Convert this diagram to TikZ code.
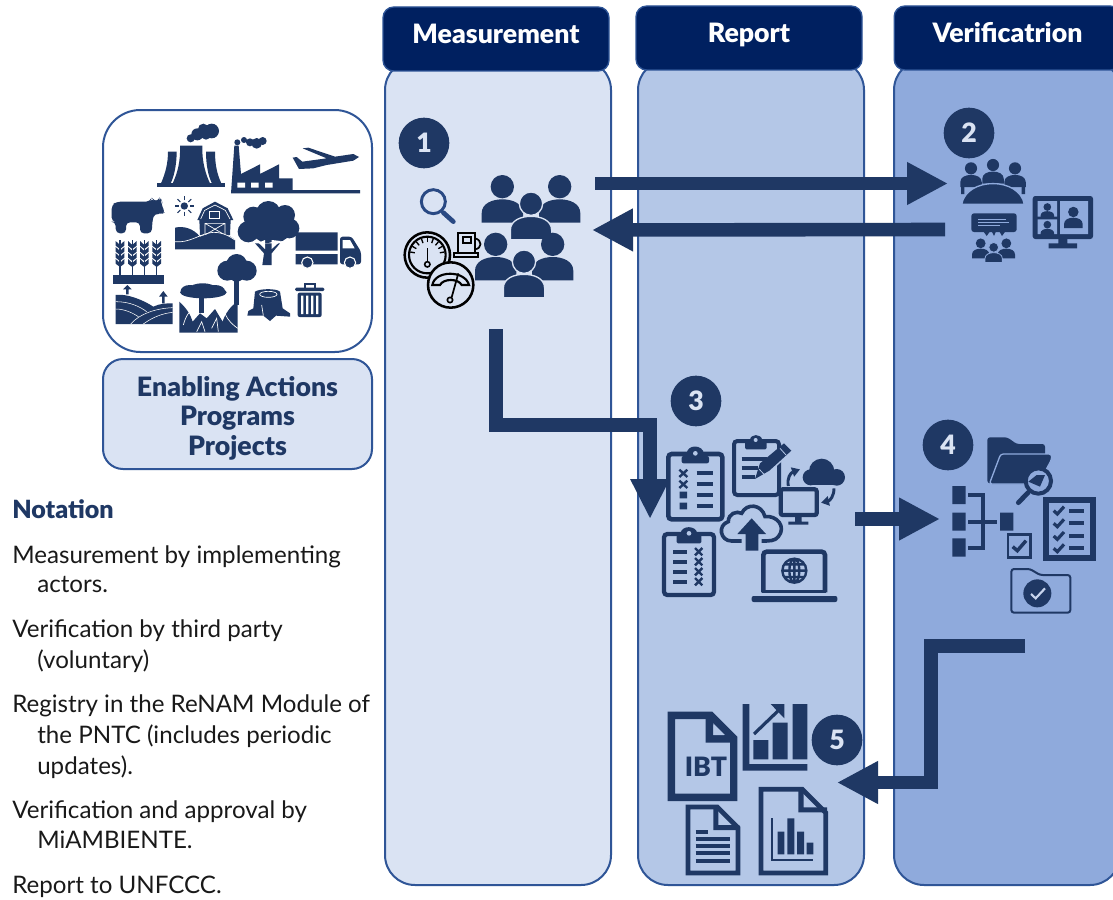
\documentclass[tikz,border=0pt]{standalone}
\usepackage{fontspec}
\setmainfont{Lato}[BoldFont={Lato Black}]
\usetikzlibrary{arrows.meta}
\definecolor{ink}{HTML}{1F3864}
\definecolor{hdr}{HTML}{002060}
\definecolor{edge}{HTML}{2F5597}
\definecolor{cA}{HTML}{DAE3F3}
\definecolor{cB}{HTML}{B4C7E7}
\definecolor{cC}{HTML}{8FAADC}
\tikzset{
 zm/.style 2 args={shift={(#1,#2)},x=.25pt,y=-.25pt},
 column/.style={draw=edge,line width=1.5pt,rounded corners=22.5pt,minimum width=169.5pt,minimum height=618.75pt,inner sep=0pt},
 header/.style={draw=edge,line width=1pt,fill=hdr,rounded corners=8pt,minimum width=169.5pt,minimum height=48pt,inner sep=0pt,text=white,font=\bfseries\fontsize{20}{24}\selectfont,text height=14pt,text depth=7pt},
 badge/.style={circle,fill=ink,minimum size=38pt,inner sep=0pt,text=cA,font=\bfseries\fontsize{20}{22}\selectfont},
 bigarrow/.style={draw=ink,line width=10.2pt,-{Triangle[length=30.75pt,width=30pt]}},
 note/.style={anchor=base west,inner sep=0pt,text=black!90,font=\fontsize{18.1}{22}\selectfont},
 person/.pic={\path[pic actions] (0,0) circle[radius=35]; \path[pic actions] (-62,108) -- (-62,80) .. controls (-62,50) and (-30,38) .. (0,38) .. controls (30,38) and (62,50) .. (62,80) -- (62,108) -- cycle;},
}
\begin{document}
\begin{tikzpicture}[x=.75pt,y=-.75pt]
\clip (0,0) rectangle (1113,899);
\fill[white] (0,0) rectangle (1113,899);
% columns
\node[column,fill=cA] (col1) at (498,472.5) {};
\node[column,fill=cB] (col2) at (751,472.5) {};
\node[column,fill=cC] (col3) at (1007,472.5) {};
\node[header] (h1) at (496,39) {Measurement};
\node[header] (h2) at (749,38) {Report};
\node[header,minimum width=170pt] (h3) at (1007.5,38) {Verificatrion};
% enabling
\node[draw=edge,line width=1.5pt,fill=white,rounded corners=28pt,minimum width=201.75pt,minimum height=181.5pt,inner sep=0pt] (frame) at (237.5,231) {};
\node[draw=edge,line width=1.5pt,fill=cA,rounded corners=15pt,minimum width=201.75pt,minimum height=82.5pt,inner sep=0pt,text=ink,align=center,font=\bfseries\fontsize{20}{22.2}\selectfont] (enable) at (237.5,414) {\rule{0pt}{21pt}Enabling Actions\\Programs\\Projects};
% icons in frame
\begin{scope}[zm={100}{105}]
 % cooling towers
 \fill[ink] (172,235) rectangle (375,245);
 \fill[ink] (240,122) -- (307,122) .. controls (305,170) and (318,210) .. (330,235) -- (218,235) .. controls (232,205) and (242,170) .. cycle;
 \fill[ink] (204,140) -- (230,140) .. controls (230,180) and (222,215) .. (212,235) -- (183,235) .. controls (196,205) and (204,175) .. cycle;
 \fill[ink] (318,140) -- (345,140) .. controls (345,175) and (350,205) .. (364,235) -- (336,235) .. controls (325,215) and (318,180) .. cycle;
 \fill[ink] (272,100) circle[radius=12] (292,88) circle[radius=18] (310,72) circle[radius=16] (335,78) circle[radius=22] (318,90) circle[radius=14];
 % factory
 \fill[ink] (393,265) -- (403,122) -- (416,122) -- (423,207) -- (480,178) -- (480,207) -- (537,178) -- (537,220) -- (578,220) -- (578,255) -- (780,255) -- (780,265) -- cycle;
 \fill[white] (412,233) rectangle (435,248) (453,233) rectangle (476,248) (495,233) rectangle (518,248);
 \fill[ink] (412,112) circle[radius=9] (432,105) circle[radius=9] (450,112) circle[radius=12] (470,115) circle[radius=16] (488,108) circle[radius=12];
 % plane
 \fill[ink] (578,158) -- (590,156) -- (607,170) -- (680,160) -- (608,130) -- (625,128) -- (705,155) -- (760,147) -- (777,156) -- (760,167) -- (680,180) -- (640,190) -- (597,192) -- cycle;
 % cow
 \fill[ink,rounded corners=3pt] (35,300) -- (50,290) -- (150,290) -- (155,278) -- (162,288) -- (175,288) -- (180,276) -- (187,290) -- (182,300) -- (197,320) -- (185,328) -- (165,325) -- (158,340) -- (155,385) -- (120,385) -- (120,352) -- (78,352) -- (78,385) -- (48,385) -- (46,350) -- (35,350) -- cycle;
 % sun
 \fill[ink] (253,303) circle[radius=11];
 \foreach \a in {0,45,...,315}{\draw[ink,line width=.8pt] (253,303) ++(\a:17) -- ++(\a:12);}
 % barn
 \fill[ink] (292,345) -- (308,310) -- (345,290) -- (383,310) -- (400,345) -- (392,345) -- (390,390) -- (300,390) -- (298,345) -- cycle;
 \draw[white,line width=.5pt] (302,342) -- (314,316) -- (345,300) -- (376,316) -- (390,342);
 \draw[white,line width=.5pt] (327,318) rectangle (358,340);
 \draw[white,line width=.5pt] (315,355) rectangle (375,390) (315,355) -- (375,390) (375,355) -- (315,390);
 \fill[ink] (225,368) .. controls (250,362) and (280,370) .. (300,395) -- (330,385) .. controls (370,380) and (395,395) .. (405,405) -- (405,433) -- (225,433) -- cycle;
 \draw[white,line width=.5pt] (225,410) .. controls (270,415) and (300,385) .. (340,382) .. controls (370,382) and (390,395) .. (405,405);
 % big tree
 \fill[ink] (460,335) circle[radius=30] (505,325) circle[radius=37] (555,330) circle[radius=30] (568,370) circle[radius=30] (445,380) circle[radius=32] (500,372) circle[radius=42] (535,375) circle[radius=35];
 \fill[ink] (487,480) -- (492,445) -- (465,415) -- (495,415) -- (540,415) -- (515,445) -- (515,480) -- cycle;
 \fill[white] (475,413) -- (495,432) -- (495,405) -- cycle (515,405) -- (515,432) -- (542,408) -- cycle;
 % truck
 \fill[ink] (587,382) rectangle (713,437) (587,447) rectangle (713,478);
 \fill[ink,rounded corners=2pt] (720,395) -- (755,395) -- (783,440) -- (783,478) -- (720,478) -- cycle;
 \fill[white] (728,405) -- (750,405) -- (764,430) -- (728,430) -- cycle;
 \filldraw[ink,draw=white,line width=.8pt] (622,473) circle[radius=17] (750,473) circle[radius=17];
 % wheat
 \foreach \sx in {60,97,133,170}{
  \begin{scope}[shift={(\sx,0)}]
  \draw[ink,line width=1pt] (0,405) -- (0,510);
  \foreach \ly in {432,450,468,486}{\fill[ink] (0,\ly) -- (-13,\ly-10) -- (-13,\ly-24) -- (0,\ly-12) -- (13,\ly-24) -- (13,\ly-10) -- cycle;}
  \end{scope}}
 \fill[ink] (40,510) rectangle (192,537);
 % fields
 \fill[ink] (47,570) .. controls (80,565) and (130,585) .. (160,605) .. controls (180,595) and (200,595) .. (218,595) -- (218,657) -- (47,657) -- cycle;
 \draw[white,line width=.4pt] (47,590) .. controls (90,590) and (120,605) .. (140,620) (47,612) .. controls (75,612) and (100,625) .. (115,635) (92,657) .. controls (120,625) and (170,610) .. (218,608) (130,657) .. controls (160,635) and (190,625) .. (218,622);
 \fill[ink] (82,540) -- (95,553) -- (86,553) -- (86,568) -- (78,568) -- (78,553) -- (69,553) -- cycle;
 \fill[ink] (190,558) -- (203,575) -- (194,575) -- (194,595) -- (186,595) -- (186,575) -- (177,575) -- cycle;
 % acacia and forest
 \fill[ink] (310,562) ellipse[x radius=70,y radius=18] (270,558) ellipse[x radius=28,y radius=18] (345,558) ellipse[x radius=30,y radius=18] (308,550) ellipse[x radius=40,y radius=15];
 \fill[ink] (297,575) rectangle (313,625);
 \fill[ink] (238,590) .. controls (260,610) and (272,630) .. (278,650) -- (300,625) -- (320,640) -- (345,612) -- (368,650) .. controls (375,625) and (395,600) .. (413,590) -- (413,683) -- (238,683) -- cycle;
 \draw[white,line width=.5pt] (250,660) .. controls (258,630) and (270,615) .. (285,610) (290,680) -- (305,650) -- (315,680) (335,670) -- (350,640) -- (355,680) (375,625) .. controls (385,650) and (400,660) .. (413,670);
 % tall tree
 \fill[ink] (410,478) circle[radius=31] (382,497) circle[radius=30] (440,497) circle[radius=30] (410,505) circle[radius=25];
 \fill[ink] (402,525) rectangle (416,600);
 % stump
 \fill[ink] (465,560) .. controls (480,550) and (530,550) .. (540,560) -- (548,610) -- (570,625) -- (570,635) -- (528,632) -- (510,648) -- (490,632) -- (442,632) -- (445,618) -- (460,610) -- cycle;
 \draw[white,line width=.5pt] (505,568) ellipse[x radius=26,y radius=9];
 \draw[white,line width=.5pt] (490,632) -- (485,600);
 % bin
 \fill[ink,rounded corners=1pt] (585,548) rectangle (673,558);
 \draw[ink,line width=1.2pt] (615,548) -- (615,537) -- (645,537) -- (645,548);
 \fill[ink,rounded corners=1.5pt] (593,563) rectangle (665,636);
 \fill[white] (603,572) rectangle (610,627) (618,572) rectangle (625,627) (633,572) rectangle (640,627) (648,572) rectangle (655,627);
\end{scope}
% badges
\node[badge] (b1) at (424,143) {1};
\node[badge] (b2) at (969,133) {2};
\node[badge] (b3) at (696,401) {3};
\node[badge] (b4) at (948,445) {4};
\node[badge] (b5) at (837,740) {5};
% group 1
\begin{scope}[zm={395}{110}]
 \draw[edge!60!ink,line width=2.2pt] (115,275) circle[radius=36];
 \draw[edge!60!ink,line width=3.5pt,line cap=round] (145,308) -- (175,335);
 \pic[fill=ink] at (322,230) {person};
 \pic[fill=ink] at (494,230) {person};
 \pic[fill=ink,draw=cA,line width=1pt] at (408,281) {person};
 \pic[fill=ink] at (302,403) {person};
 \pic[fill=ink] at (473,403) {person};
 \pic[fill=ink,draw=cA,line width=1pt] at (387,455) {person};
 % pump
 \draw[black,line width=1.5pt,fill=cA] (190,430) -- (190,368) -- (240,368) -- (240,430);
 \draw[black,line width=1.5pt] (205,380) rectangle (228,400);
 \draw[black,line width=1.3pt] (240,385) .. controls (262,390) and (262,415) .. (240,418);
 \draw[black,line width=1.7pt,fill=cA] (178,430) rectangle (250,442);
 % gauges
 \draw[black,line width=1.9pt,fill=cA] (97,435) circle[radius=68];
 \draw[black,line width=1.6pt] (97,435) circle[radius=55];
 \foreach \a in {10,30,...,170}{\draw[black,line width=1pt] (97,435) ++(-\a:38) -- ++(-\a:14);}
 \draw[black,line width=1.2pt] (97,415) -- (97,455);
 \draw[black,line width=1.2pt] (97,463) circle[radius=8];
 \draw[black,line width=1.9pt,fill=cA] (167,525) circle[radius=68];
 \draw[black,line width=1.6pt] (112,525) .. controls (120,480) and (210,480) .. (222,525) -- (200,525) .. controls (190,505) and (145,505) .. (135,525) -- cycle;
 \draw[black,line width=1.3pt] (190,490) -- (170,562);
 \draw[black,line width=1.2pt,fill=cA] (165,570) circle[radius=8];
\end{scope}
% group 2
\begin{scope}[zm={930}{110}]
 \pic[fill=ink,scale=.52] at (123,175) {person};
 \pic[fill=ink,scale=.52] at (189,165) {person};
 \pic[fill=ink,scale=.52] at (255,175) {person};
 \fill[ink] (93,210) rectangle (103,252) (275,210) rectangle (285,252);
 \draw[cC,line width=1pt,fill=ink] (95,283) .. controls (110,200) and (268,200) .. (283,283) -- cycle;
 \fill[ink,rounded corners=2pt] (124,310) rectangle (260,366);
 \fill[ink] (160,364) -- (180,364) -- (170,378) -- cycle (185,364) -- (198,364) -- (192,378) -- cycle (208,364) -- (226,364) -- (216,378) -- cycle;
 \draw[cC,line width=.5pt] (145,328) -- (228,328) (145,338) -- (238,338) (145,347) -- (210,347);
 \pic[fill=ink,scale=.42] at (152,400) {person};
 \pic[fill=ink,scale=.42] at (229,400) {person};
 \pic[fill=ink,draw=cC,line width=.6pt,scale=.42] at (191,412) {person};
 \fill[ink,rounded corners=2pt] (308,258) rectangle (489,387);
 \fill[cC] (323,273) rectangle (381,320) (323,328) rectangle (381,372) (390,273) rectangle (474,372);
 \fill[ink] (385,387) rectangle (412,400) (356,400) rectangle (441,415);
 \pic[fill=ink,scale=.33] at (352,291) {person};
 \pic[fill=ink,scale=.33] at (352,344) {person};
 \pic[fill=ink,scale=.45] at (430,306) {person};
\end{scope}
% group 3
\begin{scope}[zm={630}{380}]
 % clipboard A
 \draw[ink,line width=3.4pt,rounded corners=2.5pt] (115,222) rectangle (277,418);
 \fill[ink,rounded corners=1.5pt] (155,228) -- (170,228) .. controls (170,192) and (220,192) .. (222,228) -- (237,228) -- (237,250) -- (155,250) -- cycle;
 \fill[cB] (196,220) circle[radius=7];
 \foreach \yy in {280,313}{\draw[ink,line width=1.8pt] (148,\yy-11) -- (172,\yy+11) (172,\yy-11) -- (148,\yy+11);}
 \fill[ink] (149,335) rectangle (171,355) (149,368) rectangle (171,388);
 \draw[ink,line width=3.2pt] (200,278) -- (250,278) (200,311) -- (250,311) (200,345) -- (250,345) (200,378) -- (250,378);
 % clipboard B
 \draw[ink,line width=3pt,rounded corners=2.5pt] (312,183) rectangle (447,345);
 \fill[ink,rounded corners=1pt] (345,185) -- (360,185) .. controls (360,160) and (395,160) .. (397,185) -- (410,185) -- (410,208) -- (345,208) -- cycle;
 \fill[cB] (377,180) circle[radius=6];
 \draw[ink,line width=2.8pt] (335,238) -- (410,238) (335,265) -- (385,265) (335,290) -- (375,290);
 \draw[cB,line width=7pt] (395,280) -- (470,212);
 \fill[ink] (375,297) -- (390,250) -- (462,190) -- (484,212) -- (418,272) -- cycle;
 \draw[cB,line width=.6pt] (388,268) -- (404,285) (450,205) -- (468,225);
 % monitor + cloud
 \draw[ink,line width=3.2pt,rounded corners=1.5pt,fill=cB] (452,328) rectangle (560,405);
 \fill[ink] (495,405) rectangle (515,425) (475,425) rectangle (535,434);
 \fill[ink] (575,274) circle[radius=38] (542,292) circle[radius=24] (620,292) circle[radius=25];
 \fill[ink] (542,285) rectangle (620,316);
 \draw[ink,line width=2.2pt,-{Triangle[length=6pt,width=7pt]}] (475,318) .. controls (470,295) and (482,278) .. (510,268);
 \draw[ink,line width=2.2pt,-{Triangle[length=6pt,width=7pt]}] (612,325) .. controls (612,348) and (600,362) .. (573,368);
 % upload
 \draw[ink,line width=2.7pt,fill=cB] (335,483) -- (305,483) .. controls (270,483) and (262,435) .. (295,425) .. controls (295,400) and (320,392) .. (335,400) .. controls (350,368) and (395,372) .. (405,410) .. controls (440,405) and (470,440) .. (445,470) .. controls (435,483) and (420,483) .. (395,483);
 \fill[cB] (340,470) rectangle (390,490);
 \fill[ink] (365,415) -- (408,462) -- (385,462) -- (385,512) -- (347,512) -- (347,462) -- (322,462) -- cycle;
 % clipboard C
 \draw[ink,line width=3.2pt,rounded corners=2.5pt] (102,462) rectangle (252,645);
 \fill[ink,rounded corners=1pt] (140,465) -- (152,465) .. controls (152,435) and (200,435) .. (202,465) -- (214,465) -- (214,490) -- (140,490) -- cycle;
 \fill[cB] (177,460) circle[radius=7];
 \draw[ink,line width=3pt] (130,515) -- (172,515) (130,545) -- (172,545) (130,575) -- (172,575) (130,605) -- (172,605);
 \foreach \yy in {515,545,575,605}{\draw[ink,line width=1.8pt] (195,\yy-11) -- (217,\yy+11) (217,\yy-11) -- (195,\yy+11);}
 % laptop
 \draw[ink,line width=3.4pt,rounded corners=2.5pt] (400,637) -- (400,515) -- (585,515) -- (585,637);
 \fill[ink] (397,630) rectangle (588,640);
 \fill[ink,rounded corners=1.5pt] (365,648) rectangle (622,666);
 \draw[ink,line width=1.8pt] (493,572) circle[radius=36] (493,572) ellipse[x radius=15,y radius=36] (457,572) -- (529,572) (462,553) -- (524,553) (462,591) -- (524,591) (493,536) -- (493,608);
\end{scope}
% group 4
\begin{scope}[zm={920}{420}]
 \fill[ink,rounded corners=2pt] (202,190) -- (202,52) -- (262,52) -- (290,72) -- (375,72) -- (375,110) -- (300,190) -- cycle;
 \draw[cC,line width=1pt,fill=ink,rounded corners=2pt] (208,192) -- (242,102) -- (395,102) -- (395,118) -- (355,192) -- cycle;
 \draw[ink,line width=3pt,fill=cC] (355,183) circle[radius=38];
 \fill[ink] (325,185) -- (350,165) -- (375,165) -- (360,200) -- cycle;
 \draw[ink,line width=3.6pt,line cap=round] (295,248) -- (325,217);
 \fill[ink] (97,198) rectangle (137,252) (97,278) rectangle (137,332) (97,355) rectangle (137,410) (240,278) rectangle (280,332);
 \draw[ink,line width=2.8pt] (145,225) -- (190,225) -- (190,383) -- (145,383) (145,305) -- (232,305);
 \draw[ink,line width=1.9pt] (264,344) rectangle (332,412);
 \draw[ink,line width=2.6pt] (278,380) -- (292,392) -- (318,362);
 \draw[ink,line width=4.5pt] (378,241) rectangle (520,415);
 \foreach \yy in {272,310,348,385}{
  \draw[ink,line width=2.4pt] (401,\yy) -- (412,\yy+10) -- (432,\yy-12);
  \draw[ink,line width=3pt] (448,\yy) -- (492,\yy);}
 \draw[ink,line width=1.5pt,rounded corners=2pt] (274,578) -- (274,447) -- (330,447) -- (360,465) -- (451,465) -- (451,578) -- cycle;
 \fill[ink] (352,520) circle[radius=42];
 \draw[cC!50!white,line width=1.6pt] (333,522) -- (347,535) -- (375,505);
\end{scope}
% group 5
\begin{scope}[zm={650}{690}]
 \draw[ink,line width=5.5pt,miter limit=3] (64,76) -- (182,76) -- (251,145) -- (251,322) -- (64,322) -- cycle;
 \fill[ink] (167,70) rectangle (190,155) (167,135) rectangle (255,158);
 \fill[cB] (190,105) -- (190,135) -- (222,135) -- cycle;
 \node[text=ink,font=\bfseries\fontsize{20}{24}\selectfont,inner sep=0pt] (ibt) at (168,230) {IBT};
 \fill[ink] (278,42) rectangle (298,242) (278,222) rectangle (472,242);
 \fill[ink] (310,150) rectangle (355,208) (368,98) rectangle (413,208) (428,42) rectangle (472,208);
 \draw[ink,line width=2.4pt] (312,132) -- (392,55);
 \fill[ink] (362,42) -- (403,42) -- (403,85) -- cycle;
 \draw[ink,line width=3.6pt] (114,351) -- (202,351) -- (264,413) -- (264,549) -- (114,549) -- cycle;
 \fill[ink] (190,350) rectangle (205,418) (190,405) rectangle (268,420);
 \fill[cB] (207,370) -- (207,402) -- (236,402) -- cycle;
 \draw[ink,line width=2.8pt] (137,427) -- (175,427) (137,448) -- (240,448) (137,469) -- (240,469) (137,490) -- (240,490) (137,512) -- (240,512);
 \draw[ink,line width=3.6pt] (333,298) -- (457,298) -- (527,368) -- (527,549) -- (333,549) -- cycle;
 \fill[ink] (445,297) rectangle (461,365) (445,352) rectangle (531,367);
 \fill[cB] (462,320) -- (462,350) -- (496,350) -- cycle;
 \draw[ink,line width=1.7pt] (365,385) -- (365,510) -- (490,510);
 \fill[ink] (383,425) rectangle (403,493) (412,385) rectangle (433,493) (441,425) rectangle (462,493) (470,458) rectangle (490,493);
\end{scope}
% arrows
\coordinate (a1s) at (595,183.5); \coordinate (a1e) at (948,183.5);
\coordinate (a2s) at (945,229.5); \coordinate (a2e) at (592,230);
\coordinate (a3s) at (496,329); \coordinate (a3a) at (496,425); \coordinate (a3b) at (650,425); \coordinate (a3e) at (650,519);
\coordinate (a4s) at (855,519); \coordinate (a4e) at (940,519);
\coordinate (a5s) at (1025,646); \coordinate (a5a) at (931,646); \coordinate (a5b) at (931,782.5); \coordinate (a5e) at (837,782.5);
\draw[bigarrow] (a1s) -- (a1e);
\draw[bigarrow] (a2s) -- (a2e);
\draw[bigarrow,-{Triangle[length=30pt,width=27.5pt]}] (a3s) -- (a3a) -- (a3b) -- (a3e);
\draw[bigarrow] (a4s) -- (a4e);
\draw[bigarrow] (a5s) -- (a5a) -- (a5b) -- (a5e);
% notation
\node[note,text=ink,font=\bfseries\fontsize{18.8}{20}\selectfont] (n0) at (12,518) {Notation};
\node[note] (n1) at (12,563) {Measurement by implementing};
\node[note] (n2) at (37,592) {actors.};
\node[note] (n3) at (12,637) {Verification by third party};
\node[note] (n4) at (37,668) {(voluntary)};
\node[note] (n5) at (12,712) {Registry in the ReNAM Module of};
\node[note] (n6) at (37,743) {the PNTC (includes periodic};
\node[note] (n7) at (37,774) {updates).};
\node[note] (n8) at (12,818) {Verification and approval by};
\node[note] (n9) at (37,848) {MiAMBIENTE.};
\node[note] (n10) at (12,893) {Report to UNFCCC.};
\end{tikzpicture}
\end{document}
